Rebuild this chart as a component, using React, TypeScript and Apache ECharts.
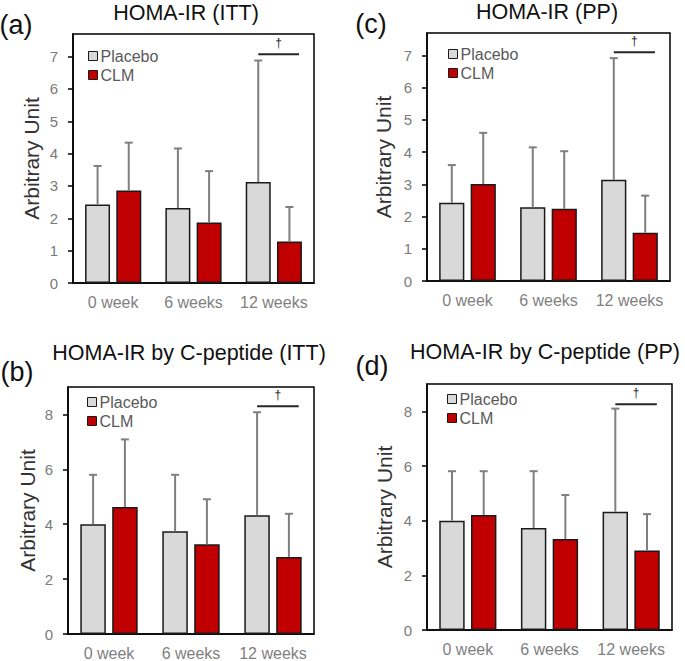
import React, { useEffect, useRef } from "react";
import * as echarts from "echarts";

const categories = ["0 week", "6 weeks", "12 weeks"];
const seriesNames = ["Placebo", "CLM"];

// (a) HOMA-IR (ITT)
const placeboA = [2.43, 2.32, 3.12];
const placeboUpperA = [3.62, 4.16, 6.88];
const clmA = [2.86, 1.87, 1.28];
const clmUpperA = [4.34, 3.46, 2.35];

// (c) HOMA-IR (PP)
const placeboC = [2.43, 2.29, 3.14];
const placeboUpperC = [3.6, 4.15, 6.92];
const clmC = [3.01, 2.24, 1.5];
const clmUpperC = [4.6, 4.03, 2.65];

// (b) HOMA-IR by C-peptide (ITT)
const placeboB = [4.0, 3.74, 4.33];
const placeboUpperB = [5.8, 5.8, 8.08];
const clmB = [4.63, 3.27, 2.81];
const clmUpperB = [7.09, 4.91, 4.38];

// (d) HOMA-IR by C-peptide (PP)
const placeboD = [4.0, 3.73, 4.33];
const placeboUpperD = [5.81, 5.81, 8.1];
const clmD = [4.21, 3.33, 2.91];
const clmUpperD = [5.81, 4.94, 4.24];

const ticksTop = [0, 1, 2, 3, 4, 5, 6, 7];
const ticksBottom = [0, 2, 4, 6, 8];
const maxTop = 7.7;
const maxBottom = 9;

const bracketA = 7.07;
const bracketC = 7.1;
const bracketB = 8.3;
const bracketD = 8.26;

const panelLabels = ["(a)", "(c)", "(b)", "(d)"];
const panelTitles = [
  "HOMA-IR (ITT)",
  "HOMA-IR (PP)",
  "HOMA-IR by C-peptide (ITT)",
  "HOMA-IR by C-peptide (PP)",
];

const ARIAL = "'Liberation Sans', Arial, sans-serif";
const OFFSET = 0.194;

const panels = [
  {
    grid: { left: 73, top: 34, width: 241, height: 249 },
    placebo: placeboA, placeboUp: placeboUpperA, clm: clmA, clmUp: clmUpperA,
    ticks: ticksTop, max: maxTop, bracket: bracketA, nameGap: 31,
    legend: { left: 88, top: 48 },
    label: { x: 16, y: 25 }, title: { x: 186, y: 13 },
  },
  {
    grid: { left: 427, top: 33, width: 243, height: 248 },
    placebo: placeboC, placeboUp: placeboUpperC, clm: clmC, clmUp: clmUpperC,
    ticks: ticksTop, max: maxTop, bracket: bracketC, nameGap: 33,
    legend: { left: 448, top: 46 },
    label: { x: 371, y: 24 }, title: { x: 547, y: 12 },
  },
  {
    grid: { left: 68, top: 387, width: 246, height: 248 },
    placebo: placeboB, placeboUp: placeboUpperB, clm: clmB, clmUp: clmUpperB,
    ticks: ticksBottom, max: maxBottom, bracket: bracketB, nameGap: 30,
    legend: { left: 87, top: 394 },
    label: { x: 17, y: 372 }, title: { x: 189, y: 353 },
  },
  {
    grid: { left: 427, top: 384, width: 245, height: 246 },
    placebo: placeboD, placeboUp: placeboUpperD, clm: clmD, clmUp: clmUpperD,
    ticks: ticksBottom, max: maxBottom, bracket: bracketD, nameGap: 32,
    legend: { left: 447, top: 391 },
    label: { x: 372, y: 366 }, title: { x: 545, y: 352 },
  },
];

function errorRender(sign: number) {
  return (params: any, api: any) => {
    const cat = api.value(0);
    const mean = api.value(1);
    const upper = api.value(2);
    const band = api.size([1, 0])[0];
    const base = api.coord([cat, mean]);
    const top = api.coord([cat, upper]);
    const x = base[0] + sign * OFFSET * band;
    const style = { stroke: "#7f7f7f", lineWidth: 2 };
    return {
      type: "group",
      children: [
        { type: "line", shape: { x1: x, y1: base[1], x2: x, y2: top[1] }, style },
        { type: "line", shape: { x1: x - 4, y1: top[1], x2: x + 4, y2: top[1] }, style },
      ],
    };
  };
}

function bracketRender(params: any, api: any) {
  const c = api.coord([api.value(0), api.value(1)]);
  const band = api.size([1, 0])[0];
  const x1 = c[0] - OFFSET * band;
  const x2 = c[0] + 0.314 * band;
  return {
    type: "group",
    children: [
      { type: "line", shape: { x1, y1: c[1], x2, y2: c[1] }, style: { stroke: "#262626", lineWidth: 2 } },
      {
        type: "text",
        x: (x1 + x2) / 2,
        y: c[1] - 5,
        style: { text: "†", fontSize: 12, fontFamily: ARIAL, fill: "#262626", align: "center", verticalAlign: "bottom" },
      },
    ],
  };
}

export default function App() {
  const ref = useRef<HTMLDivElement>(null);
  useEffect(() => {
    document.body.style.margin = "0";
    const chart = echarts.init(ref.current!, null, { renderer: "svg" });
    const grid: any[] = [];
    const xAxis: any[] = [];
    const yAxis: any[] = [];
    const series: any[] = [];
    const legend: any[] = [];
    const graphic: any[] = [];
    panels.forEach((p, i) => {
      grid.push({ ...p.grid, show: true, borderColor: "#000", borderWidth: 1.5, backgroundColor: "#fff" });
      xAxis.push({
        type: "category",
        gridIndex: i,
        data: categories,
        axisLine: { lineStyle: { color: "#000", width: 1.5 } },
        axisTick: { show: false },
        axisLabel: { interval: 0, fontSize: 16, color: "#7f7f7f", fontFamily: ARIAL, margin: 11 },
      });
      yAxis.push({
        type: "value",
        gridIndex: i,
        min: 0,
        max: p.max,
        name: "Arbitrary Unit",
        nameLocation: "middle",
        nameGap: p.nameGap,
        nameRotate: 90,
        nameTextStyle: { fontSize: 21, color: "#333", fontFamily: ARIAL },
        splitLine: { show: false },
        axisLine: { show: true, lineStyle: { color: "#000", width: 1.5 } },
        axisTick: { show: true, inside: false, length: 5, lineStyle: { color: "#000", width: 1.5 }, customValues: p.ticks },
        axisLabel: { fontSize: 15, color: "#7a7a7a", fontFamily: ARIAL, margin: 15, customValues: p.ticks },
      });
      series.push({
        type: "bar",
        name: seriesNames[0],
        xAxisIndex: i,
        yAxisIndex: i,
        data: p.placebo,
        barGap: "25%",
        barCategoryGap: "30%",
        itemStyle: { color: "#d9d9d9", borderColor: "#1a1a1a", borderWidth: 1.5 },
      });
      series.push({
        type: "bar",
        name: seriesNames[1],
        xAxisIndex: i,
        yAxisIndex: i,
        data: p.clm,
        barGap: "25%",
        barCategoryGap: "30%",
        itemStyle: { color: "#c00000", borderColor: "#1a1a1a", borderWidth: 1.5 },
      });
      series.push({
        type: "custom",
        xAxisIndex: i,
        yAxisIndex: i,
        z: 3,
        itemStyle: { color: "#7f7f7f" },
        renderItem: errorRender(-1),
        encode: { x: 0, y: 1 },
        data: categories.map((_, k) => [k, p.placebo[k], p.placeboUp[k]]),
      });
      series.push({
        type: "custom",
        xAxisIndex: i,
        yAxisIndex: i,
        z: 3,
        itemStyle: { color: "#7f7f7f" },
        renderItem: errorRender(1),
        encode: { x: 0, y: 1 },
        data: categories.map((_, k) => [k, p.clm[k], p.clmUp[k]]),
      });
      series.push({
        type: "custom",
        xAxisIndex: i,
        yAxisIndex: i,
        z: 3,
        itemStyle: { color: "#262626" },
        renderItem: bracketRender,
        encode: { x: 0, y: 1 },
        data: [[2, p.bracket]],
      });
      legend.push({
        left: p.legend.left,
        top: p.legend.top,
        orient: "vertical",
        icon: "rect",
        itemWidth: 9,
        itemHeight: 9,
        itemGap: 3,
        padding: 0,
        data: seriesNames,
        itemStyle: { borderColor: "#1a1a1a", borderWidth: 1 },
        textStyle: { fontSize: 16, color: "#595959", fontFamily: ARIAL, padding: [0, 0, 0, -2] },
      });
      graphic.push({
        type: "text",
        x: p.label.x,
        y: p.label.y,
        style: { text: panelLabels[i], fontSize: 27, fontFamily: ARIAL, fill: "#111", align: "center", verticalAlign: "middle" },
      });
      graphic.push({
        type: "text",
        x: p.title.x,
        y: p.title.y,
        style: { text: panelTitles[i], fontSize: 21.5, fontFamily: ARIAL, fill: "#111", align: "center", verticalAlign: "middle" },
      });
    });
    chart.setOption({
      animation: false,
      backgroundColor: "#fff",
      grid,
      xAxis,
      yAxis,
      series,
      legend,
      graphic,
    });
    return () => chart.dispose();
  }, []);
  return <div ref={ref} style={{ width: 685, height: 661 }} />;
}
